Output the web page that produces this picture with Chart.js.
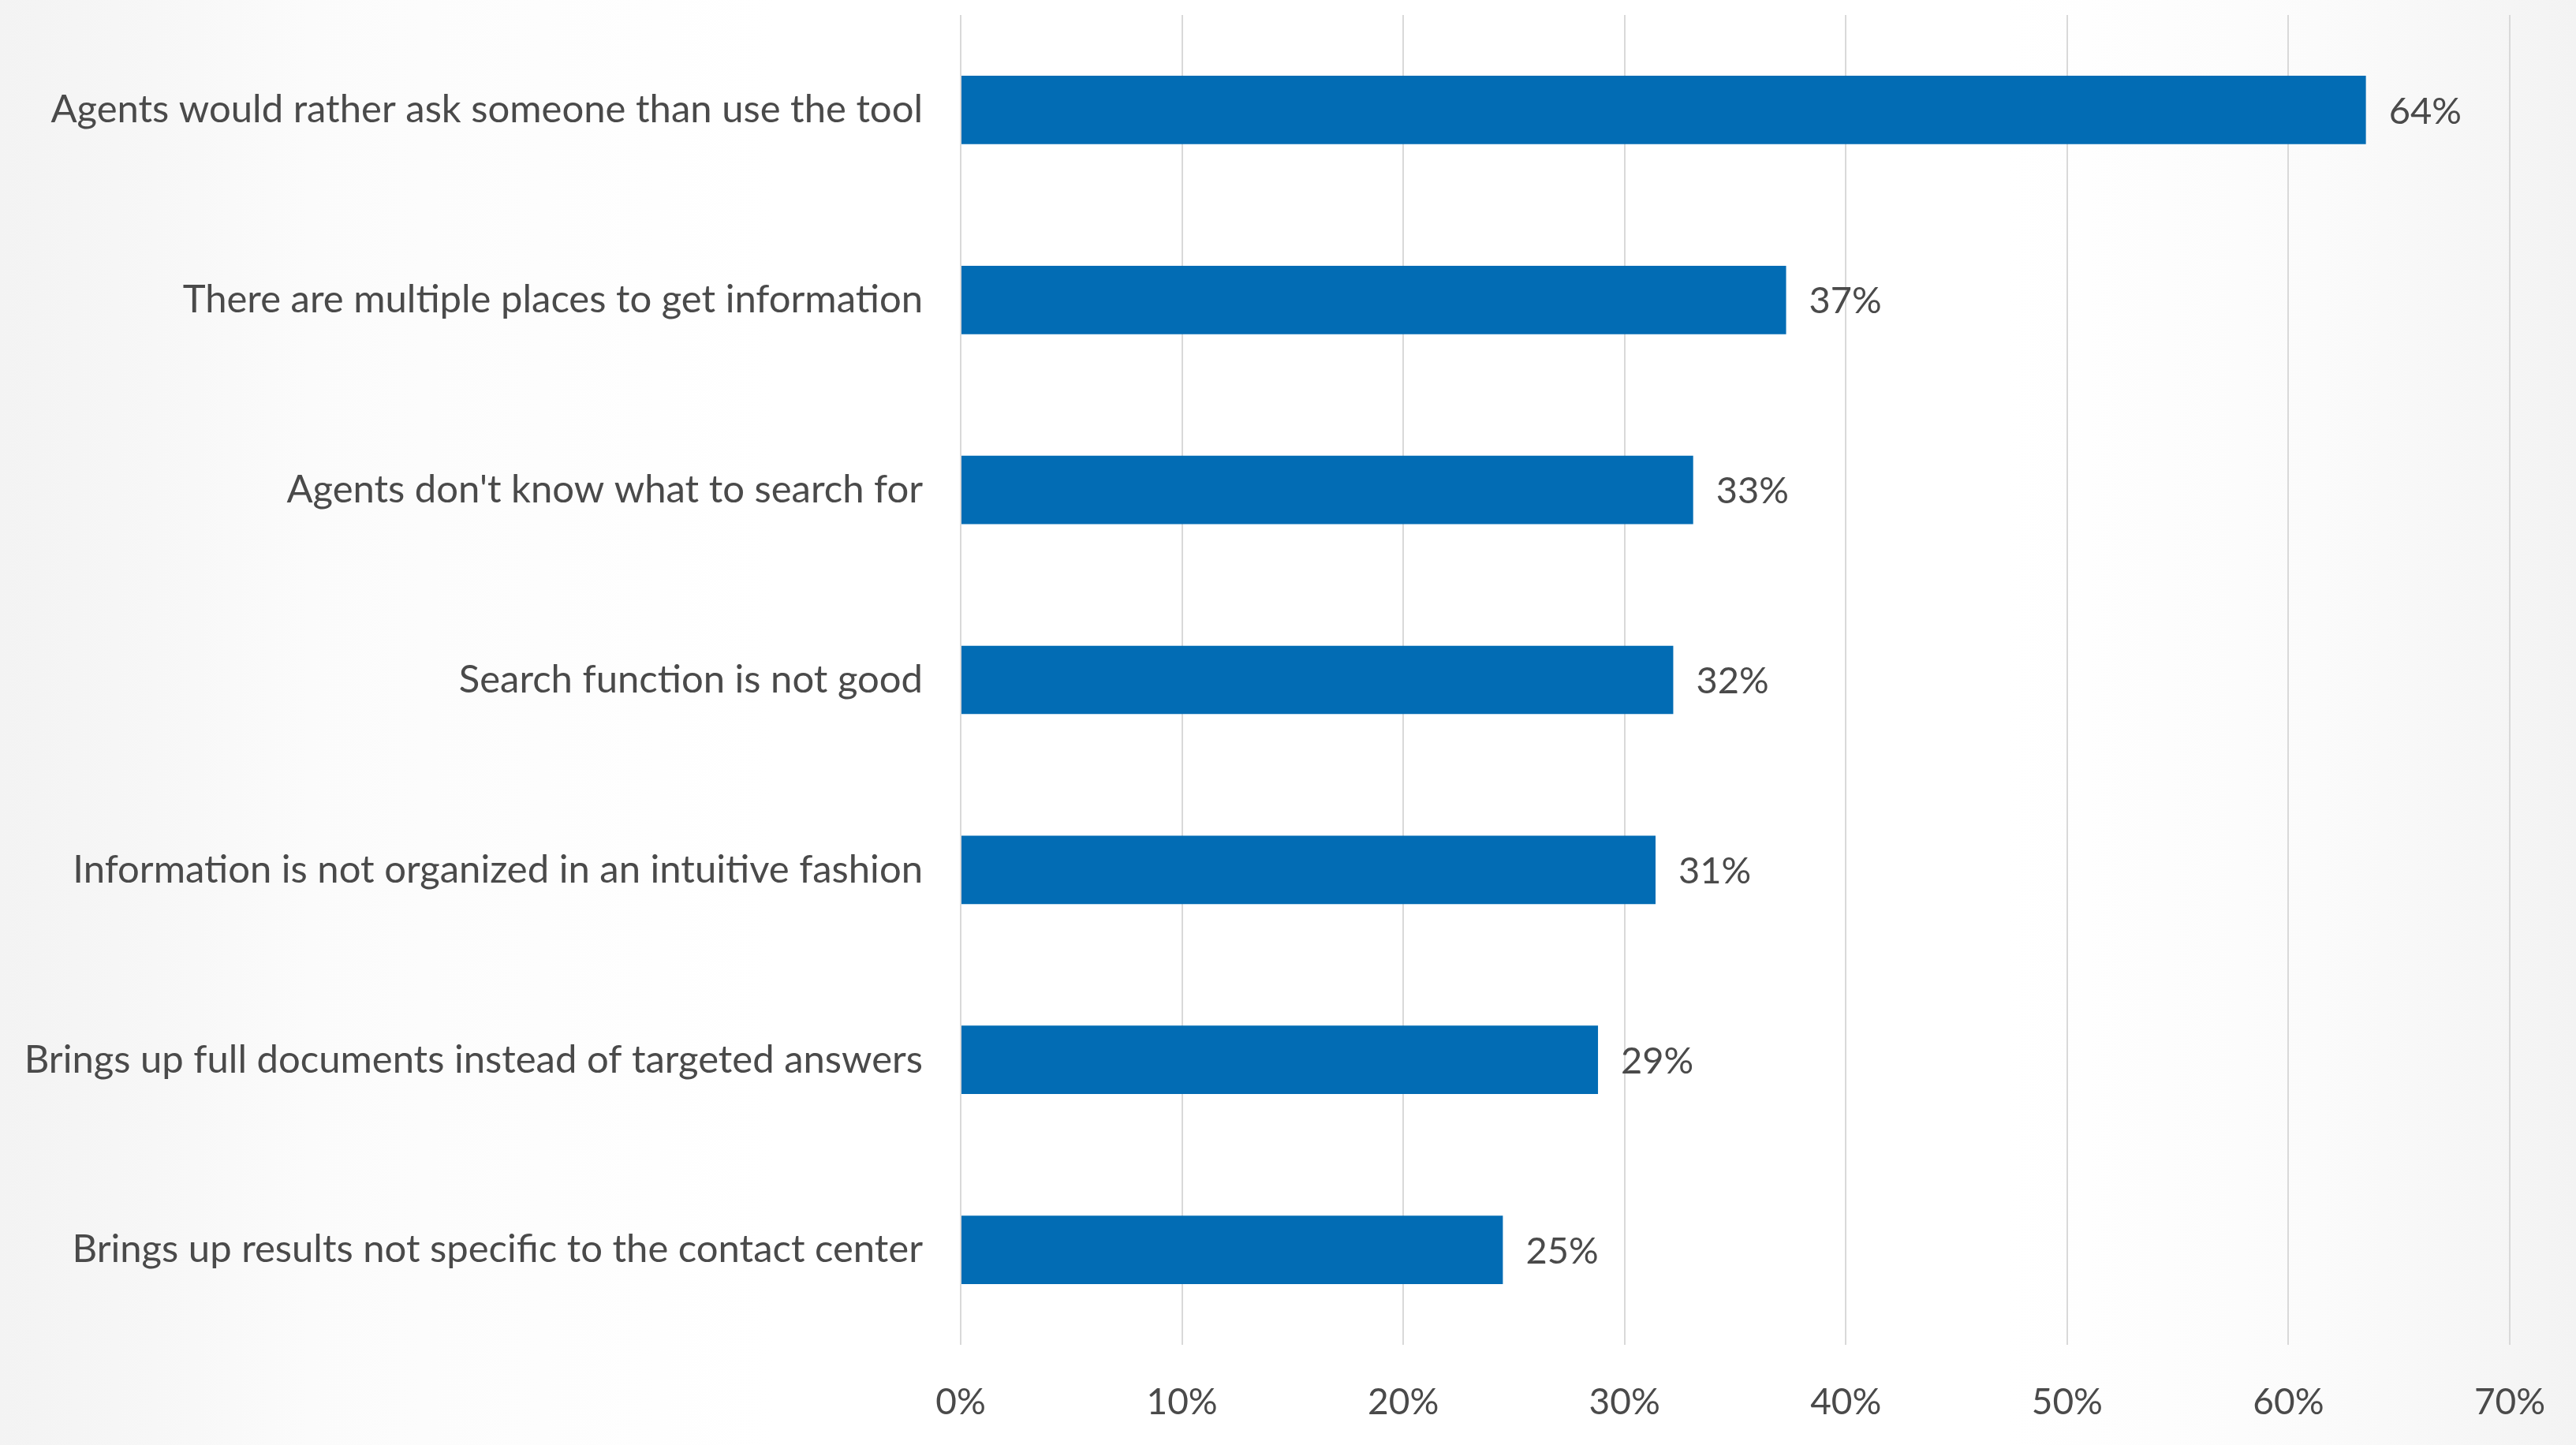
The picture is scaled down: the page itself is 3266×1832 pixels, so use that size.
<!DOCTYPE html>
<html>
<head>
<meta charset="utf-8">
<title>Knowledge tool issues</title>
<script src="https://cdn.jsdelivr.net/npm/chart.js@4.4.1/dist/chart.umd.min.js"></script>
<style>
  html, body {
    margin: 0;
    padding: 0;
    width: 3266px;
    height: 1832px;
    overflow: hidden;
  }
  body {
    background: linear-gradient(to right, #f3f3f3 0%, #fbfbfb 12%, #ffffff 30%, #ffffff 78%, #fbfbfb 90%, #f3f3f3 100%);
  }
  #wrap {
    width: 3266px;
    height: 1832px;
  }
</style>
</head>
<body>
<div id="wrap"><canvas id="motivosChart"></canvas></div>
<script>
const categories = [
  "Agents would rather ask someone than use the tool",
  "There are multiple places to get information",
  "Agents don't know what to search for",
  "Search function is not good",
  "Information is not organized in an intuitive fashion",
  "Brings up full documents instead of targeted answers",
  "Brings up results not specific to the contact center"
];
const percentages = [63.5, 37.3, 33.1, 32.2, 31.4, 28.8, 24.5];
const tickValues = [0, 10, 20, 30, 40, 50, 60, 70];

const textColor = "#4a4a4a";
const barColor = "#026cb4";
const fontFamily = "Lato, 'Noto Sans', sans-serif";

// draws the "64%" style labels just past the end of each bar
const valueLabels = {
  id: "valueLabels",
  afterDatasetsDraw(chart) {
    const ctx = chart.ctx;
    const meta = chart.getDatasetMeta(0);
    ctx.save();
    ctx.font = "47px " + fontFamily;
    ctx.fillStyle = textColor;
    ctx.textAlign = "left";
    ctx.textBaseline = "middle";
    meta.data.forEach((bar, i) => {
      const label = Math.round(percentages[i]) + "%";
      ctx.fillText(label, bar.x + 29, bar.y + 2);
    });
    ctx.restore();
  }
};

document.addEventListener("DOMContentLoaded", () => {
  const canvas = document.getElementById("motivosChart");

  new Chart(canvas, {
    type: "bar",
    data: {
      labels: categories,
      datasets: [{
        data: percentages,
        backgroundColor: barColor,
        borderWidth: 0,
        barPercentage: 0.36,
        categoryPercentage: 1
      }]
    },
    options: {
      indexAxis: "y",
      responsive: true,
      maintainAspectRatio: false,
      animation: false,
      layout: {
        padding: { top: 19, right: 84, bottom: 0, left: 0 }
      },
      plugins: {
        legend: { display: false },
        tooltip: { enabled: false }
      },
      scales: {
        x: {
          min: 0,
          max: 70,
          afterBuildTicks: (scale) => {
            scale.ticks = tickValues.map((v) => ({ value: v }));
          },
          afterFit: (scale) => {
            scale.height = 127;
            scale.paddingLeft = 0;
            scale.paddingRight = 0;
          },
          grid: {
            color: "#d9d9d9",
            lineWidth: 2,
            drawTicks: false
          },
          border: { display: false },
          ticks: {
            padding: 46,
            color: textColor,
            font: { family: fontFamily, size: 46 },
            callback: (value) => value + "%"
          }
        },
        y: {
          afterFit: (scale) => {
            scale.width = 1218;
            scale.paddingTop = 0;
            scale.paddingBottom = 0;
          },
          grid: { display: false, drawTicks: false },
          border: { display: false },
          ticks: {
            padding: 48,
            color: textColor,
            font: { family: fontFamily, size: 49 }
          }
        }
      }
    },
    plugins: [valueLabels]
  });
});
</script>
</body>
</html>
